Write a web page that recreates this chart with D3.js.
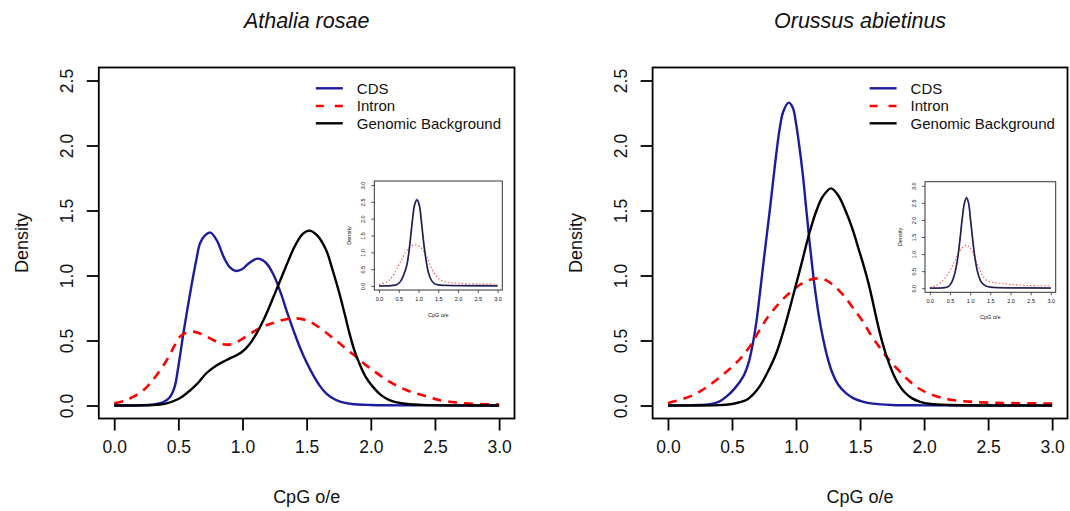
<!DOCTYPE html>
<html><head><meta charset="utf-8">
<script src="https://cdn.jsdelivr.net/npm/d3@7"></script>
<style>
body{margin:0;background:#fff}
svg{display:block}
text{font-family:"Liberation Sans",Arial,Helvetica,sans-serif;fill:#111}
</style>
</head><body>
<svg id="c" width="1070" height="511"></svg>
<script>
// ---------- data ----------
const titles = ["Athalia rosae", "Orussus abietinus"];
const seriesNames = ["CDS", "Intron", "Genomic Background"];
const xTicks = [0, 0.5, 1, 1.5, 2, 2.5, 3];
const yTicksMain = [0, 0.5, 1, 1.5, 2, 2.5];
const yTicksInset = [0, 0.5, 1, 1.5, 2, 2.5, 3];
const xLabel = "CpG o/e";
const yLabel = "Density";

// Athalia rosae  [CpG o/e, density]
const athaliaCDS = [[0,0],[0.2,0.002],[0.3,0.008],[0.38,0.025],[0.43,0.06],[0.47,0.14],[0.5,0.3],[0.54,0.56],[0.6,0.91],[0.64,1.12],[0.67,1.25],[0.71,1.31],[0.75,1.33],[0.8,1.27],[0.85,1.15],[0.9,1.065],[0.95,1.035],[1.0,1.05],[1.05,1.095],[1.12,1.13],[1.18,1.1],[1.24,1.01],[1.3,0.86],[1.35,0.71],[1.4,0.57],[1.45,0.44],[1.5,0.33],[1.55,0.235],[1.6,0.155],[1.65,0.095],[1.7,0.058],[1.76,0.03],[1.85,0.012],[2.0,0.004],[2.5,0.001],[3.0,0]];
const athaliaIntron = [[0,0.017],[0.08,0.035],[0.15,0.068],[0.22,0.11],[0.28,0.17],[0.35,0.26],[0.41,0.35],[0.47,0.46],[0.513,0.53],[0.56,0.56],[0.617,0.568],[0.68,0.55],[0.746,0.517],[0.81,0.485],[0.876,0.468],[0.94,0.48],[1.005,0.517],[1.08,0.565],[1.16,0.606],[1.24,0.635],[1.315,0.658],[1.42,0.67],[1.5,0.655],[1.56,0.625],[1.626,0.58],[1.69,0.53],[1.756,0.478],[1.82,0.425],[1.886,0.375],[1.95,0.32],[2.015,0.273],[2.08,0.225],[2.145,0.183],[2.21,0.148],[2.274,0.119],[2.34,0.097],[2.4,0.08],[2.47,0.06],[2.53,0.042],[2.65,0.025],[2.8,0.013],[3.0,0.008]];
const athaliaGenome = [[0,0],[0.3,0.003],[0.4,0.015],[0.5,0.05],[0.565,0.094],[0.65,0.17],[0.72,0.25],[0.8,0.31],[0.876,0.35],[0.95,0.385],[1.0,0.415],[1.05,0.465],[1.11,0.555],[1.16,0.65],[1.21,0.76],[1.26,0.88],[1.31,1.0],[1.36,1.12],[1.41,1.23],[1.47,1.32],[1.52,1.345],[1.58,1.31],[1.65,1.2],[1.7,1.05],[1.756,0.86],[1.8,0.69],[1.834,0.555],[1.87,0.43],[1.91,0.325],[1.96,0.22],[2.015,0.145],[2.08,0.08],[2.145,0.042],[2.25,0.015],[2.4,0.005],[3.0,0]];

// Orussus abietinus
const orussusCDS = [[0,0],[0.2,0.003],[0.33,0.01],[0.4,0.03],[0.456,0.068],[0.52,0.13],[0.586,0.22],[0.63,0.33],[0.663,0.478],[0.69,0.64],[0.715,0.837],[0.74,1.05],[0.767,1.273],[0.795,1.5],[0.819,1.709],[0.845,1.93],[0.871,2.12],[0.9,2.26],[0.943,2.33],[0.975,2.29],[1.0,2.17],[1.025,2.0],[1.052,1.786],[1.078,1.53],[1.104,1.273],[1.13,1.04],[1.156,0.837],[1.18,0.68],[1.208,0.53],[1.24,0.39],[1.28,0.26],[1.33,0.16],[1.39,0.095],[1.45,0.055],[1.52,0.03],[1.6,0.014],[1.75,0.004],[2.0,0.001],[3.0,0]];
const orussusIntron = [[0,0.02],[0.1,0.045],[0.197,0.08],[0.26,0.115],[0.327,0.158],[0.39,0.205],[0.456,0.26],[0.52,0.315],[0.586,0.385],[0.65,0.47],[0.715,0.58],[0.78,0.68],[0.845,0.76],[0.91,0.83],[0.975,0.888],[1.04,0.935],[1.104,0.965],[1.16,0.978],[1.22,0.97],[1.28,0.935],[1.34,0.88],[1.39,0.825],[1.441,0.755],[1.519,0.65],[1.58,0.55],[1.649,0.452],[1.71,0.37],[1.778,0.295],[1.84,0.23],[1.907,0.17],[1.97,0.125],[2.037,0.092],[2.12,0.064],[2.22,0.042],[2.35,0.03],[2.5,0.022],[2.7,0.018],[3.0,0.015]];
const orussusGenome = [[0,0],[0.4,0.003],[0.5,0.012],[0.56,0.025],[0.612,0.042],[0.66,0.08],[0.715,0.145],[0.78,0.26],[0.845,0.4],[0.91,0.6],[0.975,0.837],[1.04,1.08],[1.104,1.325],[1.16,1.5],[1.208,1.606],[1.273,1.67],[1.33,1.615],[1.39,1.49],[1.44,1.36],[1.49,1.2],[1.53,1.07],[1.571,0.92],[1.61,0.75],[1.649,0.58],[1.7,0.4],[1.752,0.26],[1.8,0.165],[1.85,0.1],[1.907,0.055],[1.97,0.028],[2.05,0.012],[2.2,0.004],[3.0,0]];

// insets
const athaliaInsetCDS = [[0,0],[0.3,0.01],[0.45,0.04],[0.55,0.15],[0.63,0.35],[0.7,0.6],[0.75,0.95],[0.8,1.45],[0.85,2.0],[0.9,2.4],[0.96,2.57],[1.02,2.4],[1.07,1.95],[1.12,1.4],[1.18,0.85],[1.25,0.4],[1.32,0.18],[1.4,0.07],[1.5,0.03],[1.7,0.015],[2.0,0.01],[3.0,0.005]];
const athaliaInsetGenome = [[0,0],[0.3,0.01],[0.45,0.04],[0.55,0.14],[0.63,0.34],[0.7,0.6],[0.75,0.96],[0.8,1.47],[0.85,2.02],[0.9,2.42],[0.96,2.55],[1.02,2.38],[1.07,1.93],[1.12,1.38],[1.18,0.84],[1.25,0.4],[1.32,0.18],[1.4,0.07],[1.5,0.03],[1.7,0.015],[2.0,0.01],[3.0,0.005]];
const athaliaInsetIntron = [[0,0.05],[0.2,0.12],[0.35,0.3],[0.49,0.6],[0.6,0.85],[0.7,1.05],[0.8,1.17],[0.93,1.22],[1.05,1.15],[1.2,0.9],[1.3,0.6],[1.41,0.35],[1.55,0.18],[1.7,0.12],[2.0,0.08],[2.5,0.06],[3.0,0.05]];
const orussusInsetCDS = [[0,0],[0.3,0.01],[0.45,0.04],[0.53,0.15],[0.61,0.4],[0.68,0.8],[0.74,1.35],[0.8,2.0],[0.86,2.5],[0.91,2.66],[0.96,2.5],[1.01,2.0],[1.07,1.35],[1.13,0.8],[1.2,0.4],[1.28,0.17],[1.38,0.07],[1.5,0.03],[1.7,0.015],[2.0,0.01],[3.0,0.005]];
const orussusInsetGenome = [[0,0],[0.3,0.01],[0.45,0.04],[0.53,0.14],[0.61,0.39],[0.68,0.8],[0.74,1.36],[0.8,2.02],[0.86,2.52],[0.91,2.63],[0.96,2.48],[1.01,1.98],[1.07,1.33],[1.13,0.79],[1.2,0.4],[1.28,0.17],[1.38,0.07],[1.5,0.03],[1.7,0.015],[2.0,0.01],[3.0,0.005]];
const orussusInsetIntron = [[0,0.03],[0.15,0.08],[0.3,0.2],[0.45,0.42],[0.6,0.75],[0.72,1.05],[0.82,1.2],[0.91,1.26],[1.0,1.18],[1.1,0.95],[1.2,0.65],[1.3,0.38],[1.42,0.22],[1.6,0.16],[1.8,0.14],[2.0,0.11],[2.4,0.08],[3.0,0.07]];

// ---------- drawing ----------
const svg = d3.select("#c");
const COL = {cds:"#1c1c9c", intron:"#ff0000", gb:"#000000"};
const fmt = d3.format(".1f");

const panels = [
  {title: titles[0], left: 98.8, right: 514.5, cds: athaliaCDS, intron: athaliaIntron, gb: athaliaGenome,
   inset: {left:374.3, right:502.3, top:181, bottom:290, cds: athaliaInsetCDS, intron: athaliaInsetIntron, gb: athaliaInsetGenome}},
  {title: titles[1], left: 652.6, right: 1067.5, cds: orussusCDS, intron: orussusIntron, gb: orussusGenome,
   inset: {left:925, right:1055.7, top:181.7, bottom:292.3, cds: orussusInsetCDS, intron: orussusInsetIntron, gb: orussusInsetGenome}}
];
const TOP = 67.5, BOT = 418.5;

panels.forEach(p => {
  const g = svg.append("g");
  const x = d3.scaleLinear().domain([-0.12, 3.12]).range([p.left, p.right]);
  const y = d3.scaleLinear().domain([-0.1, 2.6]).range([BOT, TOP]);
  const line = d3.line().x(d => x(d[0])).y(d => y(d[1])).curve(d3.curveCatmullRom.alpha(0.5));

  g.append("path").datum(p.cds).attr("d", line).attr("fill","none").attr("stroke",COL.cds).attr("stroke-width",2.4);
  g.append("path").datum(p.intron).attr("d", line).attr("fill","none").attr("stroke",COL.intron).attr("stroke-width",2.6).attr("stroke-dasharray","9,7");
  g.append("path").datum(p.gb).attr("d", line).attr("fill","none").attr("stroke",COL.gb).attr("stroke-width",2.4);

  // box
  g.append("rect").attr("x",p.left).attr("y",TOP).attr("width",p.right-p.left).attr("height",BOT-TOP)
    .attr("fill","none").attr("stroke","#000").attr("stroke-width",1.8);

  // x axis
  const xa = g.append("g").attr("transform",`translate(0,${BOT})`)
    .call(d3.axisBottom(x).tickValues(xTicks).tickFormat(fmt).tickSize(12).tickPadding(10));
  xa.select(".domain").remove();
  xa.selectAll("line").attr("stroke","#000").attr("stroke-width",1.8);
  xa.selectAll("text").style("font-size","17.5px").attr("fill","#111").style("font-family","Liberation Sans, Arial, sans-serif");
  // y axis
  const ya = g.append("g").attr("transform",`translate(${p.left},0)`)
    .call(d3.axisLeft(y).tickValues(yTicksMain).tickFormat(fmt).tickSize(12).tickPadding(0));
  ya.select(".domain").remove();
  ya.selectAll("line").attr("stroke","#000").attr("stroke-width",1.8);
  ya.selectAll("text").attr("x",null).attr("dy",null).attr("text-anchor","middle")
    .attr("transform","translate(-32,0) rotate(-90)").attr("dy","0.35em")
    .style("font-size","17.5px").attr("fill","#111").style("font-family","Liberation Sans, Arial, sans-serif");

  // axis titles
  const cx = (p.left + p.right) / 2;
  g.append("text").attr("x",cx).attr("y",503).attr("text-anchor","middle").style("font-size","18px").text(xLabel);
  g.append("text").attr("transform",`translate(${p.left-77},${(TOP+BOT)/2}) rotate(-90)`).attr("text-anchor","middle")
    .attr("dy","0.35em").style("font-size","18px").text(yLabel);
  g.append("text").attr("x",cx).attr("y",28).attr("text-anchor","middle").style("font-size","21.5px").style("font-style","italic").text(p.title);

  // legend
  const lx = p.left + 217, ly = [88.3, 106, 123.3];
  const legendStyle = [
    {c:COL.cds, dash:null}, {c:COL.intron, dash:"8,11"}, {c:COL.gb, dash:null}
  ];
  seriesNames.forEach((nm, i) => {
    g.append("line").attr("x1",lx).attr("x2",lx+27).attr("y1",ly[i]).attr("y2",ly[i])
      .attr("stroke",legendStyle[i].c).attr("stroke-width",2.4).attr("stroke-dasharray",legendStyle[i].dash);
    g.append("text").attr("x",lx+41).attr("y",ly[i]).attr("dy","0.35em").style("font-size","15px").text(nm);
  });

  // inset
  const ins = p.inset;
  const ix = d3.scaleLinear().domain([-0.12, 3.12]).range([ins.left, ins.right]);
  const iy = d3.scaleLinear().domain([-0.12, 3.12]).range([ins.bottom, ins.top]);
  const iline = d3.line().x(d => ix(d[0])).y(d => iy(d[1])).curve(d3.curveCatmullRom.alpha(0.5));
  const ig = g.append("g");
  ig.append("rect").attr("x",ins.left).attr("y",ins.top).attr("width",ins.right-ins.left).attr("height",ins.bottom-ins.top)
    .attr("fill","#fff").attr("stroke","#333").attr("stroke-width",1);
  ig.append("path").datum(ins.intron).attr("d", iline).attr("fill","none").attr("stroke","#ff5555").attr("stroke-width",1.1).attr("stroke-dasharray","1.5,2");
  ig.append("path").datum(ins.cds).attr("d", iline).attr("fill","none").attr("stroke","#5050a8").attr("stroke-width",1.8);
  ig.append("path").datum(ins.gb).attr("d", iline).attr("fill","none").attr("stroke","#111").attr("stroke-width",0.9);
  const ixa = ig.append("g").attr("transform",`translate(0,${ins.bottom})`)
    .call(d3.axisBottom(ix).tickValues(xTicks).tickFormat(fmt).tickSize(3).tickPadding(4));
  ixa.select(".domain").remove();
  ixa.selectAll("line").attr("stroke","#333").attr("stroke-width",0.8);
  ixa.selectAll("text").style("font-size","5.5px").attr("fill","#333");
  const iya = ig.append("g").attr("transform",`translate(${ins.left},0)`)
    .call(d3.axisLeft(iy).tickValues(yTicksInset).tickFormat(fmt).tickSize(3).tickPadding(0));
  iya.select(".domain").remove();
  iya.selectAll("line").attr("stroke","#333").attr("stroke-width",0.8);
  iya.selectAll("text").attr("x",null).attr("dy","0.35em").attr("text-anchor","middle")
    .attr("transform","translate(-11,0) rotate(-90)").style("font-size","5.5px").attr("fill","#333");
  ig.append("text").attr("x",(ins.left+ins.right)/2).attr("y",ins.bottom+27).attr("text-anchor","middle")
    .style("font-size","5.5px").attr("fill","#333").text(xLabel);
  ig.append("text").attr("transform",`translate(${ins.left-25},${(ins.top+ins.bottom)/2}) rotate(-90)`).attr("text-anchor","middle")
    .attr("dy","0.35em").style("font-size","5.5px").attr("fill","#333").text(yLabel);
});
</script>
</body></html>
